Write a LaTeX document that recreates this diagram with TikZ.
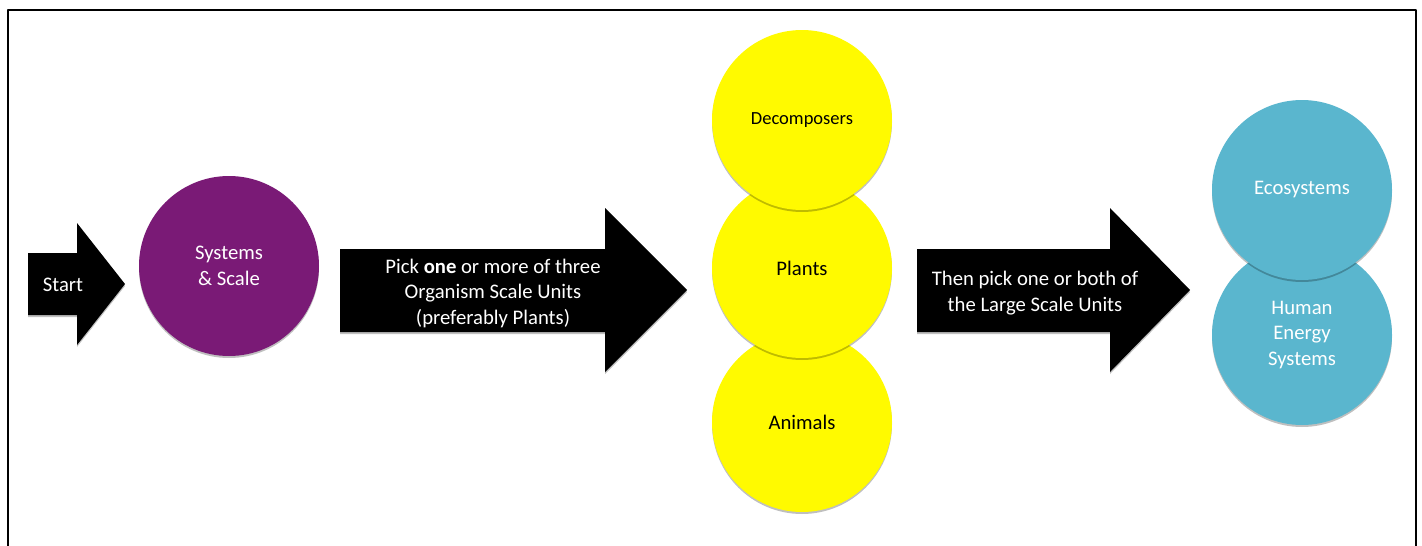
\documentclass[tikz,border=0pt]{standalone}
\usepackage{fontspec}
\setmainfont{Carlito}
\usetikzlibrary{shadows}
\definecolor{sysPurple}{RGB}{122,26,118}
\definecolor{orgYellow}{RGB}{255,250,0}
\definecolor{largeBlue}{RGB}{90,182,206}
\tikzset{
  softshadow/.style={drop shadow={shadow xshift=0pt, shadow yshift=-2pt, opacity=0.25, fill=black}},
  blockarrow/.style={fill=black, softshadow},
  arrowtext/.style={text=white, align=center, inner sep=0pt},
  unit/.style={circle, minimum size=180pt, inner sep=0pt, align=center, softshadow},
  sysunit/.style={unit, fill=sysPurple, text=white},
  orgunit/.style={unit, fill=orgYellow, text=black},
  largeunit/.style={unit, fill=largeBlue, text=white}
}
\begin{document}
\begin{tikzpicture}[x=1pt, y=-1pt, line join=round, font=\fontsize{20.7}{25.5}\selectfont]
\useasboundingbox (0,0) rectangle (1422,546);
\draw[line width=2pt] (8,546)--(8,10)--(1416,10)--(1416,546);
% block arrows
\fill[blockarrow] (28,253)--(77,253)--(77,223)--(125,284)--(77,345)--(77,315)--(28,315)--cycle;
\fill[blockarrow] (340,249)--(605,249)--(605,208)--(687,290)--(605,372)--(605,332)--(340,332)--cycle;
\fill[blockarrow] (917,249)--(1110,249)--(1110,208)--(1190,290)--(1110,372)--(1110,332)--(917,332)--cycle;
\node[arrowtext] (start) at (63,285) {Start};
\node[arrowtext] (pick) at (493,293) {Pick {\bfseries one} or more of three\\Organism Scale Units\\(preferably Plants)};
\node[arrowtext] (then) at (1035,293) {Then pick one or both of\\the Large Scale Units};
% scale units
\node[sysunit] (systems) at (229,266) {Systems\\\& Scale};
\node[orgunit] (animals) at (802,422) {Animals};
\node[orgunit] (plants) at (802,268) {Plants};
\node[orgunit, font=\fontsize{18.5}{22}\selectfont] (decomp) at (802,120) {Decomposers};
\node[largeunit] (human) at (1302,335) {Human\\Energy\\Systems};
\node[largeunit] (eco) at (1302,190) {Ecosystems};
\end{tikzpicture}
\end{document}
